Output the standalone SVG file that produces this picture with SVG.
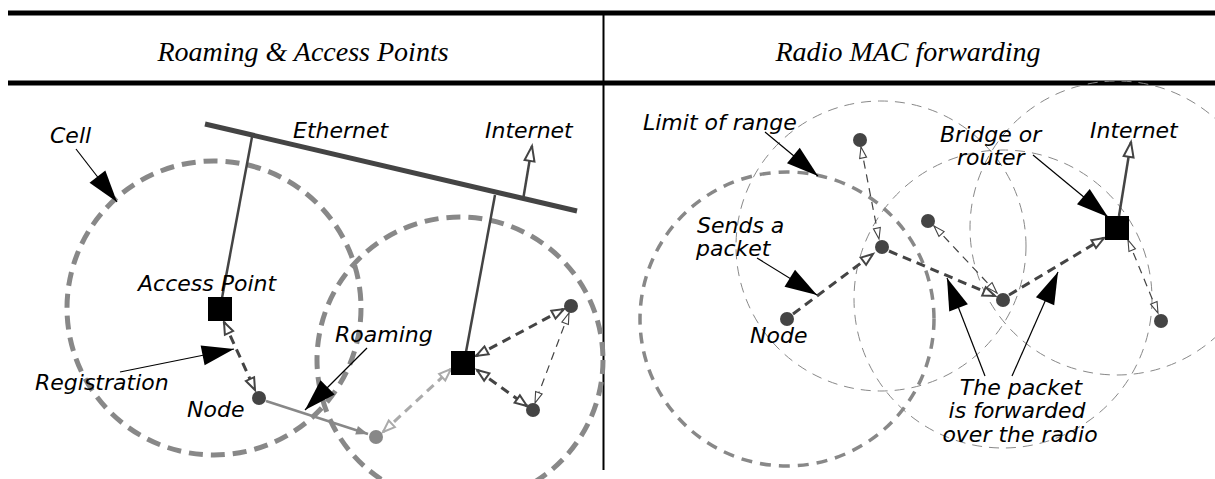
<svg xmlns="http://www.w3.org/2000/svg" width="1215" height="479" viewBox="0 0 1215 479">
<style>
.title{font-family:"Liberation Serif","Times New Roman",serif;font-style:italic;font-size:28px;fill:#000}
.lbl{font-family:"DejaVu Sans","Liberation Sans",sans-serif;font-style:italic;font-size:22px;fill:#000}
.cell{fill:none;stroke:#888;stroke-width:5;stroke-dasharray:14 8}
.range{fill:none;stroke:#888;stroke-width:3.5;stroke-dasharray:11 8}
.thin{fill:none;stroke:#888;stroke-width:1;stroke-dasharray:10 7}
.node{fill:#444}
.gnode{fill:#888}
.ap{fill:#000}
.wire{stroke:#444;stroke-width:2.5;fill:none}
.eth{stroke:#444;stroke-width:5;fill:none}
.dlink{stroke:#444;stroke-width:3;stroke-dasharray:9 6;fill:none}
.tlink{stroke:#444;stroke-width:1.2;stroke-dasharray:8 6;fill:none}
.glink{stroke:#aaa;stroke-width:3;stroke-dasharray:9 6;fill:none}
.point{stroke:#000;stroke-width:1.2;fill:none}
</style>
<defs>
<marker id="fh" markerUnits="userSpaceOnUse" markerWidth="34" markerHeight="22" refX="32" refY="10" orient="auto" overflow="visible">
<path d="M0,0 L32,10 L0,20 Z" fill="#000" stroke="none"/>
</marker>
<marker id="oh" markerUnits="userSpaceOnUse" markerWidth="14" markerHeight="10" refX="12" refY="4.5" orient="auto-start-reverse" overflow="visible">
<path d="M0,0 L12,4.5 L0,9 Z" fill="#fff" stroke="#444" stroke-width="2" stroke-dasharray="none"/>
</marker>
<marker id="th" markerUnits="userSpaceOnUse" markerWidth="12" markerHeight="8" refX="11" refY="3.5" orient="auto-start-reverse" overflow="visible">
<path d="M0,0 L11,3.5 L0,7 Z" fill="#fff" stroke="#444" stroke-width="1.1" stroke-dasharray="none"/>
</marker>
<marker id="gh" markerUnits="userSpaceOnUse" markerWidth="14" markerHeight="10" refX="12" refY="4.5" orient="auto-start-reverse" overflow="visible">
<path d="M0,0 L12,4.5 L0,9 Z" fill="#fff" stroke="#aaa" stroke-width="2" stroke-dasharray="none"/>
</marker>
<marker id="gf" markerUnits="userSpaceOnUse" markerWidth="14" markerHeight="10" refX="12" refY="4.5" orient="auto" overflow="visible">
<path d="M0,0 L12,4.5 L0,9 Z" fill="#888" stroke="none"/>
</marker>
<marker id="ih" markerUnits="userSpaceOnUse" markerWidth="16" markerHeight="12" refX="15" refY="5" orient="auto" overflow="visible">
<path d="M0,0 L15,5 L0,10 Z" fill="#fff" stroke="#444" stroke-width="2"/>
</marker>
</defs>

<g id="frame">
<line x1="8" y1="13" x2="1215" y2="13" stroke="#000" stroke-width="5"/>
<line x1="8" y1="83" x2="1215" y2="83" stroke="#000" stroke-width="5"/>
<line x1="603.5" y1="13" x2="603.5" y2="470" stroke="#000" stroke-width="2"/>
<text class="title" x="303" y="61" text-anchor="middle">Roaming &amp; Access Points</text>
<text class="title" x="908" y="61" text-anchor="middle">Radio MAC forwarding</text>
</g>

<g id="cells">
<circle class="cell" cx="214" cy="308" r="147"/>
<circle class="cell" cx="460" cy="360" r="143"/>
<circle class="range" cx="787" cy="319" r="147"/>
<circle class="thin" cx="881" cy="246" r="145"/>
<circle class="thin" cx="1117" cy="228" r="147"/>
<circle class="thin" cx="1003" cy="299" r="149"/>
</g>

<g id="ethernet">
<line class="eth" x1="205" y1="124" x2="577" y2="211"/>
</g>

<g id="connectors">
<line class="wire" x1="252" y1="137" x2="222" y2="298"/>
<line class="wire" x1="495" y1="195" x2="466" y2="352"/>
<line class="wire" x1="523" y1="200" x2="532" y2="146" marker-end="url(#ih)"/>
<line class="dlink" x1="224" y1="322" x2="255" y2="390" marker-start="url(#oh)" marker-end="url(#oh)"/>
<line stroke="#888" stroke-width="2.5" x1="266" y1="401" x2="368" y2="434" marker-end="url(#gf)"/>
<line class="glink" x1="383" y1="432" x2="451" y2="369" marker-start="url(#gh)" marker-end="url(#gh)"/>
<line class="dlink" x1="476" y1="356" x2="564" y2="309" marker-start="url(#oh)" marker-end="url(#oh)"/>
<line class="dlink" x1="477" y1="370" x2="527" y2="406" marker-start="url(#oh)" marker-end="url(#oh)"/>
<line class="tlink" x1="569" y1="313" x2="535" y2="403" marker-start="url(#th)" marker-end="url(#th)"/>

<line class="dlink" x1="793" y1="314" x2="873" y2="254" marker-end="url(#oh)"/>
<line class="dlink" x1="889" y1="251" x2="995" y2="296" marker-end="url(#oh)"/>
<line class="dlink" x1="1009" y1="295" x2="1104" y2="238" marker-end="url(#oh)"/>
<line class="wire" stroke-width="3" x1="1119" y1="216" x2="1131" y2="142" marker-end="url(#ih)"/>
<line class="tlink" x1="861" y1="147" x2="879" y2="239" marker-start="url(#th)" marker-end="url(#th)"/>
<line class="tlink" x1="934" y1="226" x2="997" y2="293" marker-start="url(#th)" marker-end="url(#th)"/>
<line class="tlink" x1="1128" y1="240" x2="1158" y2="313" marker-start="url(#th)" marker-end="url(#th)"/>

<line class="point" x1="76" y1="149" x2="117" y2="202" marker-end="url(#fh)"/>
<line class="point" x1="120" y1="372" x2="234" y2="349" marker-end="url(#fh)"/>
<line class="point" x1="367" y1="348" x2="305" y2="410" marker-end="url(#fh)"/>
<line class="point" x1="765" y1="132" x2="818" y2="176" marker-end="url(#fh)"/>
<line class="point" x1="757" y1="258" x2="817" y2="295" marker-end="url(#fh)"/>
<line class="point" x1="1033" y1="155" x2="1108" y2="217" marker-end="url(#fh)"/>
<line class="point" x1="985" y1="376" x2="947" y2="278" marker-end="url(#fh)"/>
<line class="point" x1="1012" y1="376" x2="1058" y2="272" marker-end="url(#fh)"/>
</g>

<g id="ap1"><rect class="ap" x="208" y="297" width="24" height="24"/></g>
<g id="ap2"><rect class="ap" x="451" y="351" width="24" height="24"/></g>
<g id="node1"><circle class="node" cx="259" cy="398" r="7"/></g>
<g id="node-roamed"><circle class="gnode" cx="376" cy="437" r="7"/></g>
<g id="nodeA"><circle class="node" cx="571" cy="306" r="7"/></g>
<g id="nodeB"><circle class="node" cx="533" cy="410" r="7"/></g>

<g id="r-node0"><circle class="node" cx="787" cy="319" r="7"/></g>
<g id="r-node-top"><circle class="node" cx="860" cy="140" r="7"/></g>
<g id="r-node1"><circle class="node" cx="882" cy="247" r="7"/></g>
<g id="r-node2"><circle class="node" cx="928" cy="221" r="7"/></g>
<g id="r-node3"><circle class="node" cx="1003" cy="300" r="7"/></g>
<g id="bridge"><rect class="ap" x="1105" y="216" width="24" height="24"/></g>
<g id="r-node5"><circle class="node" cx="1161" cy="321" r="7"/></g>

<g id="labels">
<text class="lbl" x="50" y="143">Cell</text>
<text class="lbl" x="293" y="138">Ethernet</text>
<text class="lbl" x="485" y="138">Internet</text>
<text class="lbl" x="138" y="291">Access Point</text>
<text class="lbl" x="35" y="390">Registration</text>
<text class="lbl" x="187" y="417">Node</text>
<text class="lbl" x="335" y="342">Roaming</text>
<text class="lbl" x="643" y="130">Limit of range</text>
<text class="lbl" x="697" y="233">Sends a</text>
<text class="lbl" x="696" y="256">packet</text>
<text class="lbl" x="750" y="343">Node</text>
<text class="lbl" x="940" y="142">Bridge or</text>
<text class="lbl" x="957" y="165">router</text>
<text class="lbl" x="1090" y="138">Internet</text>
<text class="lbl" x="1021" y="395" text-anchor="middle">The packet</text>
<text class="lbl" x="1017" y="418" text-anchor="middle">is forwarded</text>
<text class="lbl" x="1020" y="442" text-anchor="middle">over the radio</text>
</g>
</svg>
